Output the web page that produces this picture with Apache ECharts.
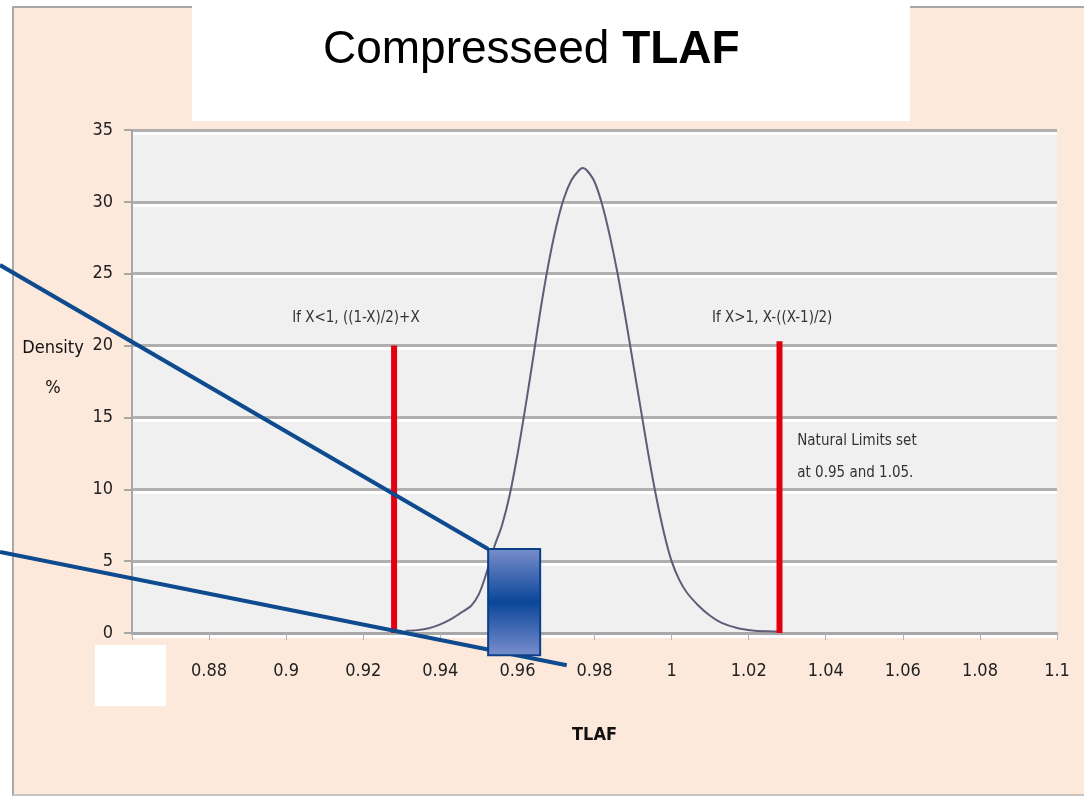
<!DOCTYPE html>
<html>
<head>
<meta charset="utf-8">
<style>
  html, body { margin: 0; padding: 0; background: #ffffff; }
  #chart { width: 1084px; height: 799px; }
</style>
<script src="https://cdn.jsdelivr.net/npm/echarts@6/dist/echarts.min.js"></script>
</head>
<body>
<div id="chart"></div>
<script>
// ---- data ----
const titleText = 'Compresseed';
const titleBold = 'TLAF';
const xAxisName = 'TLAF';
const yAxisNameLines = ['Density', '%'];
const xTicks = [0.86, 0.88, 0.9, 0.92, 0.94, 0.96, 0.98, 1, 1.02, 1.04, 1.06, 1.08, 1.1];
const yTicks = [0, 5, 10, 15, 20, 25, 30, 35];

// density curve (TLAF value, density %)
const curveX = [0.931, 0.934, 0.937, 0.940, 0.943, 0.945, 0.948, 0.950, 0.952, 0.954,
                0.956, 0.958, 0.960, 0.962, 0.964, 0.966, 0.968, 0.970, 0.972, 0.974,
                0.976, 0.977, 0.978, 0.980, 0.982, 0.984, 0.986, 0.988, 0.990, 0.992,
                0.994, 0.996, 0.998, 1.000, 1.002, 1.004, 1.007, 1.010, 1.013, 1.017,
                1.021, 1.025, 1.028];
const curveY = [0.15, 0.2, 0.33, 0.6, 1.0, 1.35, 1.9, 2.7, 4.2, 6.0,
                7.5, 9.6, 12.4, 15.6, 19.0, 22.5, 25.6, 28.2, 30.2, 31.5,
                32.2, 32.35, 32.2, 31.4, 29.8, 27.6, 25.0, 22.0, 18.8, 15.6,
                12.4, 9.5, 7.0, 5.0, 3.7, 2.8, 1.9, 1.2, 0.7, 0.35,
                0.18, 0.12, 0.1];

// compression limit markers
const leftLimitX = [0.928, 0.928];
const leftLimitY = [0, 20];
const rightLimitX = [1.028, 1.028];
const rightLimitY = [0, 20.3];

const noteLeft = 'If X<1, ((1-X)/2)+X';
const noteRight = 'If X>1, X-((X-1)/2)';
const noteLimits = 'Natural Limits set\nat 0.95 and 1.05.';

// callout box (data coordinates)
const calloutBoxX = [0.9524, 0.9659];
const calloutBoxY = [5.85, -1.55];
const calloutLowerEnd = [0.9728, -2.25];

// ---- chart ----
const FONT = "'Liberation Sans Narrow', 'DejaVu Sans Condensed', 'Liberation Sans', sans-serif";
const zip = (xs, ys) => xs.map((x, i) => [x, ys[i]]);
const chart = echarts.init(document.getElementById('chart'), null, { renderer: 'canvas' });

const option = {
  animation: false,
  backgroundColor: '#fce9dc',
  title: {
    text: '{n|' + titleText + ' }{b|' + titleBold + '}',
    left: 318,
    top: 22,
    textStyle: {
      rich: {
        n: { fontFamily: "'Liberation Sans', Arial, sans-serif", fontSize: 46, color: '#000', fontWeight: 'normal' },
        b: { fontFamily: "'Liberation Sans', Arial, sans-serif", fontSize: 46, color: '#000', fontWeight: 'bold' }
      }
    }
  },
  grid: {
    left: 132, right: 27, top: 130, bottom: 166,
    show: true, backgroundColor: '#f0f0f0', borderWidth: 0
  },
  xAxis: {
    type: 'value',
    min: xTicks[0], max: xTicks[xTicks.length - 1], interval: 0.02,
    name: xAxisName, nameLocation: 'middle', nameGap: 93,
    nameTextStyle: { fontFamily: FONT, fontSize: 18, fontWeight: 'bold', color: '#111' },
    axisLine: { show: true, lineStyle: { color: '#a7a7a7', width: 3 } },
    axisTick: { show: true, inside: false, length: 7, lineStyle: { color: '#b3b3b3', width: 1 } },
    axisLabel: {
      margin: 29, fontFamily: FONT, fontSize: 18, color: '#222',
      formatter: v => String(parseFloat(v.toFixed(2)))
    },
    splitLine: { show: false }
  },
  yAxis: {
    type: 'value',
    min: yTicks[0], max: yTicks[yTicks.length - 1], interval: 5,
    name: '{a|' + yAxisNameLines[0] + '}\n{a|' + yAxisNameLines[1] + '}\n{s| }',
    nameLocation: 'middle', nameGap: 79, nameRotate: 0,
    nameTextStyle: {
      align: 'center', verticalAlign: 'middle',
      rich: {
        a: { fontFamily: FONT, fontSize: 18, color: '#111', lineHeight: 40, align: 'center' },
        s: { fontSize: 10, lineHeight: 26 }
      }
    },
    axisLine: { show: true, lineStyle: { color: '#a7a7a7', width: 2 } },
    axisTick: { show: true, inside: false, length: 8, lineStyle: { color: '#a7a7a7', width: 2 } },
    axisLabel: { margin: 19, fontFamily: FONT, fontSize: 18, color: '#222' },
    splitLine: { show: true, lineStyle: { color: '#b0b0b0', width: 3, shadowColor: '#ffffff', shadowOffsetY: 3, shadowBlur: 0 } }
  },
  series: [
    {
      name: 'Density', type: 'line', data: zip(curveX, curveY),
      smooth: 0.3, showSymbol: false, symbol: 'none',
      lineStyle: { color: '#5d5d78', width: 2 }, z: 3
    },
    {
      name: 'Lower limit', type: 'line', data: zip(leftLimitX, leftLimitY),
      showSymbol: false, symbol: 'none',
      lineStyle: { color: '#e2000f', width: 6, cap: 'butt' }, z: 4
    },
    {
      name: 'Upper limit', type: 'line', data: zip(rightLimitX, rightLimitY),
      showSymbol: false, symbol: 'none',
      lineStyle: { color: '#e2000f', width: 6, cap: 'butt' }, z: 4
    }
  ]
};
chart.setOption(option);

function px(x, y) { return chart.convertToPixel({ gridIndex: 0 }, [x, y]); }
const W = 1084, H = 799;
const boxA = px(calloutBoxX[0], calloutBoxY[0]);
const boxB = px(calloutBoxX[1], calloutBoxY[1]);
const lowEnd = px(calloutLowerEnd[0], calloutLowerEnd[1]);
const upStart = [0, px(0, 25.6)[1]];
const lowStart = [0, px(0, 5.64)[1]];
const nl = px(0.9181, 21.9);
const nr = px(1.0261, 21.9);
const nlim = px(1.0326, 14.5);

chart.setOption({
  graphic: [
    // outer frame: white margins and gray border
    { type: 'rect', shape: { x: 0, y: 0, width: 12, height: H }, style: { fill: '#ffffff' }, z: 1 },
    { type: 'rect', shape: { x: 0, y: 796, width: W, height: 3 }, style: { fill: '#ffffff' }, z: 1 },
    { type: 'rect', shape: { x: 0, y: 0, width: W, height: 6 }, style: { fill: '#ffffff' }, z: 1 },
    { type: 'polyline', shape: { points: [[13, 796], [13, 7], [W, 7]] }, style: { stroke: '#a8a8a8', lineWidth: 2, fill: null }, z: 1 },
    { type: 'line', shape: { x1: 13, y1: 795, x2: W, y2: 795 }, style: { stroke: '#c8c4c0', lineWidth: 2 }, z: 1 },
    // title white box
    { type: 'rect', shape: { x: 192, y: 0, width: 718, height: 121 }, style: { fill: '#ffffff' }, z: 2 },
    // white patch over first x label
    { type: 'rect', shape: { x: 95, y: 645, width: 71, height: 61 }, style: { fill: '#ffffff' }, z: 50 },
    // notes
    { type: 'text', x: nl[0], y: nl[1], style: { text: noteLeft, fill: '#333', font: "15px " + FONT, textAlign: 'center', textVerticalAlign: 'middle' }, z: 50 },
    { type: 'text', x: nr[0], y: nr[1], style: { text: noteRight, fill: '#333', font: "15px " + FONT, textAlign: 'center', textVerticalAlign: 'middle' }, z: 50 },
    { type: 'text', x: nlim[0], y: nlim[1], style: { text: noteLimits, fill: '#333', font: "15px " + FONT, textAlign: 'left', textVerticalAlign: 'top', lineHeight: 32 }, z: 50 },
    // callout lines and box
    { type: 'line', shape: { x1: upStart[0], y1: upStart[1], x2: boxA[0], y2: boxA[1] }, style: { stroke: '#0e4a8e', lineWidth: 4 }, z: 60 },
    { type: 'line', shape: { x1: lowStart[0], y1: lowStart[1], x2: lowEnd[0], y2: lowEnd[1] }, style: { stroke: '#0e4a8e', lineWidth: 4 }, z: 60 },
    { type: 'rect', shape: { x: boxA[0], y: boxA[1], width: boxB[0] - boxA[0], height: boxB[1] - boxA[1] },
      style: {
        fill: new echarts.graphic.LinearGradient(0, 0, 0, 1, [
          { offset: 0, color: '#7a8fcd' }, { offset: 0.5, color: '#0b4699' }, { offset: 1, color: '#7a8fcd' }
        ]),
        stroke: '#0b3f88', lineWidth: 2
      }, z: 61 }
  ]
});
</script>
</body>
</html>
